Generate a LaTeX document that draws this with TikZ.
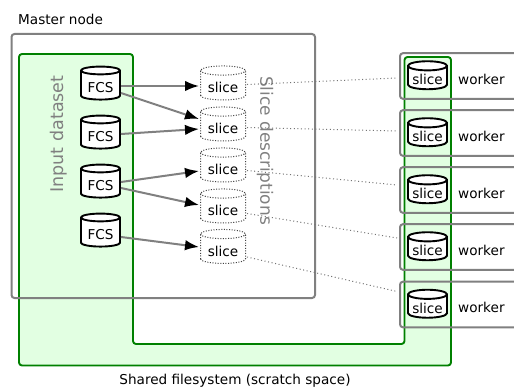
\documentclass[tikz,border=0pt]{standalone}
\usepackage{fontspec}
\setmainfont{DejaVu Sans}
\usetikzlibrary{shapes.geometric,arrows.meta,calc}
\definecolor{lgreen}{HTML}{E2FFE2}
\definecolor{dgreen}{HTML}{008000}
\definecolor{mgray}{HTML}{808080}
\newcommand{\lowered}[1]{\raisebox{-7.5pt}[0pt][0pt]{#1}}
\newcommand{\lowerw}[1]{\raisebox{-6.5pt}[0pt][0pt]{#1}}
\tikzset{
  x=1pt,y=-1pt,
  cyl/.style={cylinder,shape border rotate=90,aspect=0.3,minimum height=33pt,minimum width=39pt,inner sep=0pt,outer sep=0pt,font=\fontsize{13.6}{16}\selectfont},
  fcs/.style={cyl,draw=black,line width=1.9pt,fill=white},
  slc/.style={cyl,minimum width=45pt,minimum height=34pt,draw=black!75,line width=1pt,dash pattern=on 1pt off 1.6pt,fill=white},
  wslc/.style={cyl,minimum height=28pt,draw=black,line width=1.9pt,fill=white},
  greenbox/.style={draw=dgreen,line width=1.9pt,fill=lgreen,rounded corners=3pt},
  graybox/.style={draw=mgray,line width=2pt,rounded corners=3pt},
  flow/.style={draw=mgray,line width=2pt,-{Latex[length=14pt,width=10.5pt,black]}},
  dots/.style={draw=black!55,line width=1pt,dash pattern=on 1pt off 2.6pt},
  lab/.style={font=\fontsize{13.6}{16}\selectfont,inner sep=0pt},
  biglab/.style={text=mgray,inner sep=0pt},
}
\begin{document}
\begin{tikzpicture}
\useasboundingbox (0,0) rectangle (514,390);
\path[greenbox] (19,54) -- (133,54) -- (133,344) -- (404.5,344) -- (404.5,57) -- (451,57) -- (451,365.5) -- (19,365.5) -- cycle;
\node[graybox,draw,minimum width=303.5pt,minimum height=264pt,inner sep=0pt,anchor=north west] (master) at (10.5,33) {};
\node[lab,anchor=west] (mlabel) at (18,19) {Master node};
\node[lab] (slabel) at (235,381) {Shared filesystem (scratch space)};
\node[biglab,rotate=90,font=\fontsize{17.5}{20}\selectfont] (inp) at (59,134) {Input dataset};
\node[biglab,rotate=-90,font=\fontsize{17}{20}\selectfont] (des) at (265,150.5) {Slice descriptions};
% workers
\foreach \i/\y in {1/76,2/133,3/190,4/247,5/304.5}{
  \draw[graybox] (514,\y-22.8) -- (400,\y-22.8) -- (400,\y+22.8) -- (514,\y+22.8);
  \node[wslc] (w\i) at (427.5,\y+2) {\lowerw{slice}};
  \node[lab,anchor=west] (wl\i) at (458,\y+3) {worker};
}
% inputs
\node[fcs] (f1) at (100.5,85.5) {\lowered{FCS}};
\node[fcs] (f2) at (100.5,134.5) {\lowered{FCS}};
\node[fcs] (f3) at (100.5,183.5) {\lowered{FCS}};
\node[fcs] (f4) at (100.5,232.5) {\lowered{FCS}};
% slices
\node[slc] (s1) at (223,85.5) {\lowered{slice}};
\node[slc] (s2) at (223,126.5) {\lowered{slice}};
\node[slc] (s3) at (223,167.5) {\lowered{slice}};
\node[slc] (s4) at (223,208.5) {\lowered{slice}};
\node[slc] (s5) at (223,249) {\lowered{slice}};
% dotted
\draw[dots] ([shift={(24,-1)}]s1.center) -- ([shift={(-30.5,0)}]w1.center);
\draw[dots] ([shift={(24,1)}]s2.center) -- ([shift={(-30.5,-4)}]w2.center);
\draw[dots] ([shift={(24,3)}]s3.center) -- ([shift={(-30.5,-7)}]w3.center);
\draw[dots] ([shift={(24,5)}]s4.center) -- ([shift={(-30.5,-11)}]w4.center);
\draw[dots] ([shift={(24,8)}]s5.center) -- ([shift={(-30.5,-15)}]w5.center);
% flows
\draw[flow] ([shift={(20.5,0.5)}]f1.center) -- ([shift={(-24,0.5)}]s1.center);
\draw[flow] ([shift={(20.5,7.5)}]f1.center) -- ([shift={(-24,-7.5)}]s2.center);
\draw[flow] ([shift={(20.5,-0.5)}]f2.center) -- ([shift={(-24,2.5)}]s2.center);
\draw[flow] ([shift={(20.5,-1.5)}]f3.center) -- ([shift={(-24,3.5)}]s3.center);
\draw[flow] ([shift={(20.5,4.5)}]f3.center) -- ([shift={(-24,-3.5)}]s4.center);
\draw[flow] ([shift={(20.5,4.5)}]f4.center) -- ([shift={(-24,-2)}]s5.center);
\end{tikzpicture}
\end{document}
